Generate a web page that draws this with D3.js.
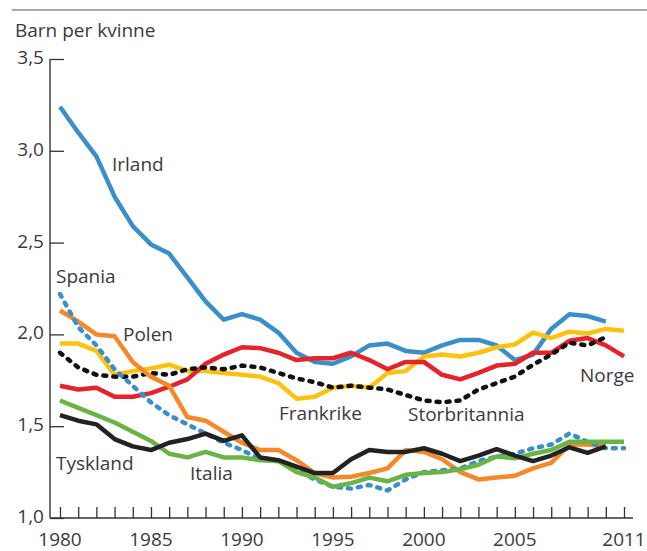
<!DOCTYPE html>
<html><head><meta charset="utf-8">
<script src="https://cdnjs.cloudflare.com/ajax/libs/d3/7.8.5/d3.min.js"></script>
<style>body{margin:0;background:#fff}svg{display:block}</style>
</head><body>
<svg id="c" width="647" height="551"></svg>
<script>
const startYear = 1980;
const xTicks = [1980, 1985, 1990, 1995, 2000, 2005, 2011];
const yTicks = [1.0, 1.5, 2.0, 2.5, 3.0, 3.5];
const irland = [3.24,3.10,2.97,2.75,2.59,2.49,2.44,2.31,2.18,2.08,2.11,2.08,2.01,1.90,1.85,1.84,1.88,1.94,1.95,1.91,1.90,1.94,1.97,1.97,1.94,1.86,1.89,2.03,2.11,2.10,2.07];
const spania = [2.22,2.04,1.94,1.81,1.72,1.63,1.56,1.51,1.46,1.41,1.37,1.32,1.31,1.26,1.21,1.17,1.16,1.18,1.15,1.21,1.25,1.26,1.27,1.31,1.335,1.35,1.38,1.40,1.46,1.415,1.38,1.38];
const polen = [2.13,2.07,2.00,1.99,1.85,1.77,1.72,1.55,1.53,1.47,1.41,1.37,1.37,1.315,1.245,1.22,1.225,1.245,1.27,1.37,1.36,1.32,1.25,1.21,1.22,1.23,1.27,1.30,1.40,1.40,1.39];
const frankrike = [1.95,1.95,1.91,1.78,1.80,1.815,1.835,1.80,1.80,1.79,1.78,1.77,1.735,1.65,1.66,1.71,1.72,1.71,1.79,1.80,1.88,1.89,1.88,1.90,1.93,1.945,2.01,1.98,2.015,2.005,2.03,2.02];
const norge = [1.72,1.70,1.71,1.66,1.66,1.68,1.715,1.755,1.84,1.89,1.93,1.925,1.90,1.86,1.87,1.87,1.90,1.86,1.81,1.85,1.85,1.78,1.755,1.79,1.83,1.84,1.90,1.90,1.965,1.98,1.94,1.88];
const storbritannia = [1.90,1.82,1.78,1.77,1.77,1.79,1.78,1.81,1.82,1.81,1.83,1.82,1.79,1.76,1.74,1.71,1.72,1.71,1.70,1.67,1.64,1.63,1.64,1.70,1.735,1.77,1.835,1.89,1.955,1.94,1.985];
const tyskland = [1.56,1.53,1.51,1.43,1.39,1.37,1.41,1.43,1.46,1.42,1.45,1.33,1.315,1.28,1.245,1.245,1.32,1.37,1.36,1.36,1.38,1.35,1.31,1.34,1.375,1.34,1.31,1.34,1.385,1.355,1.39];
const italia = [1.64,1.60,1.56,1.52,1.47,1.42,1.35,1.33,1.36,1.33,1.33,1.315,1.31,1.25,1.22,1.17,1.19,1.22,1.20,1.235,1.245,1.25,1.265,1.29,1.335,1.325,1.35,1.37,1.415,1.415,1.415,1.415];

const series = [
  {name:"Irland", values:irland, color:"#3a8fc8", dash:null, label:[112,171]},
  {name:"Frankrike", values:frankrike, color:"#fdc20e", dash:null, label:[279,420]},
  {name:"Norge", values:norge, color:"#e5232a", dash:null, label:[580,382]},
  {name:"Storbritannia", values:storbritannia, color:"#111111", dash:"3,7", label:[408,421]},
  {name:"Polen", values:polen, color:"#f4892c", dash:null, label:[123,341]},
  {name:"Spania", values:spania, color:"#3a8fc8", dash:"3,7", label:[56,283]},
  {name:"Italia", values:italia, color:"#6ab445", dash:null, label:[190,480]},
  {name:"Tyskland", values:tyskland, color:"#222222", dash:null, label:[56,470]}
];

const svg = d3.select("#c");
const x = d3.scaleLinear().domain([1980, 2011]).range([60, 624]);
const y = d3.scaleLinear().domain([1.0, 3.5]).range([518, 59]);
const font = "'Open Sans', 'Noto Sans', sans-serif";
const textColor = "#3a3a3a";

// top rule
svg.append("line").attr("x1", 12).attr("x2", 647).attr("y1", 10).attr("y2", 10)
  .attr("stroke", "#555").attr("stroke-width", 1.2);

svg.append("text").attr("x", 15).attr("y", 37).text("Barn per kvinne")
  .attr("font-family", font).attr("font-size", 19).attr("fill", textColor);

// y axis
const yAxis = d3.axisRight(y).tickValues(yTicks).tickSize(14).tickFormat("");
const gy = svg.append("g").attr("transform", "translate(50,0)").call(yAxis);
gy.select(".domain").remove();
gy.selectAll(".tick line").attr("stroke", "#333").attr("stroke-width", 1.3);
svg.append("line").attr("x1", 50).attr("x2", 50).attr("y1", y(3.5)).attr("y2", y(1.0))
  .attr("stroke", "#333").attr("stroke-width", 1.4);
svg.selectAll(".ylab").data(yTicks).enter().append("text")
  .attr("x", 44).attr("y", d => y(d) + 5).attr("text-anchor", "end")
  .text(d => d3.format(".1f")(d).replace(".", ","))
  .attr("font-family", font).attr("font-size", 19).attr("fill", textColor);

// x axis
const years = d3.range(1980, 2012);
const xAxis = d3.axisTop(x).tickValues(years).tickSize(11).tickFormat("");
const gx = svg.append("g").attr("transform", "translate(0," + y(1.0) + ")").call(xAxis);
gx.select(".domain").remove();
gx.selectAll(".tick line").attr("stroke", "#333").attr("stroke-width", 1.3);
svg.append("line").attr("x1", 50).attr("x2", 633).attr("y1", y(1.0)).attr("y2", y(1.0))
  .attr("stroke", "#333").attr("stroke-width", 1.4);
svg.selectAll(".xlab").data(xTicks).enter().append("text")
  .attr("x", d => x(d)).attr("y", 546).attr("text-anchor", "middle").text(d => d)
  .attr("font-family", font).attr("font-size", 19).attr("fill", textColor);

// lines
const line = d3.line().x((d, i) => x(startYear + i)).y(d => y(d));
series.forEach(s => {
  const p = svg.append("path").datum(s.values).attr("d", line)
    .attr("fill", "none").attr("stroke", s.color).attr("stroke-width", 4.5)
    .attr("stroke-linejoin", "round");
  if (s.dash) p.attr("stroke-dasharray", s.dash).attr("stroke-linecap", "round");
});

// labels
series.forEach(s => {
  svg.append("text").attr("x", s.label[0]).attr("y", s.label[1]).text(s.name)
    .attr("font-family", font).attr("font-size", 19).attr("fill", textColor);
});
</script>
</body></html>
